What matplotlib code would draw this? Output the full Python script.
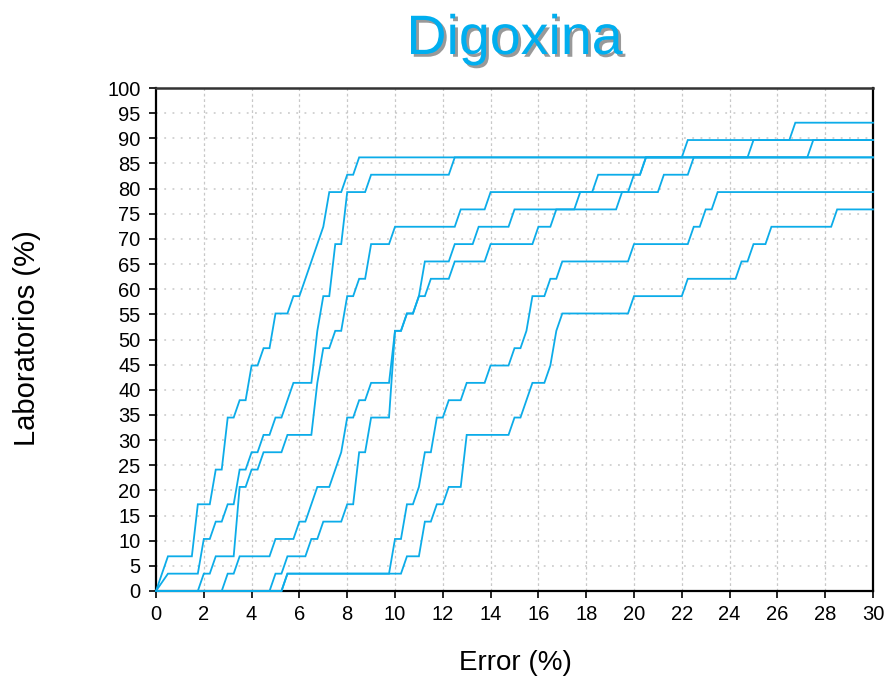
import matplotlib
matplotlib.use("Agg")
import matplotlib.pyplot as plt
import matplotlib.patheffects as pe
import numpy as np

plt.rcParams['font.family'] = ['Liberation Sans', 'DejaVu Sans']

TITLE = "Digoxina"
X_LABEL = "Error (%)"
Y_LABEL = "Laboratorios (%)"
N_LABS = 29
X_TICKS = list(range(0, 31, 2))
Y_TICKS = list(range(0, 101, 5))

# Each curve: error (%) vertices and number of laboratories (out of 29)
A_x = [0, 0.5, 1.5, 1.75, 2.25, 2.5, 2.75, 3, 3.25, 3.5, 3.75, 4, 4.25, 4.5, 4.75, 5, 5.5, 5.75, 6, 7,
       7.25, 7.75, 8, 8.25, 8.5, 22, 22.25, 26.5, 26.75, 30]
A_n = [0, 2, 2, 5, 5, 7, 7, 10, 10, 11, 11, 13, 13, 14, 14, 16, 16, 17, 17, 21,
       23, 23, 24, 24, 25, 25, 26, 26, 27, 27]

B_x = [0, 0.5, 1.75, 2, 2.25, 2.5, 2.75, 3, 3.25, 3.5, 3.75, 4, 4.25, 4.5, 4.75, 5, 5.25, 5.75, 6.5, 6.75,
       7, 7.25, 7.5, 7.75, 8, 8.75, 9, 12.25, 12.5, 24.75, 25, 30]
B_n = [0, 1, 1, 3, 3, 4, 4, 5, 5, 7, 7, 8, 8, 9, 9, 10, 10, 12, 12, 15,
       17, 17, 20, 20, 23, 23, 24, 24, 25, 25, 26, 26]

C_x = [0, 1.75, 2, 2.25, 2.5, 3.25, 3.5, 3.75, 4, 4.25, 4.5, 5.25, 5.5, 6.5, 6.75, 7, 7.25, 7.5, 7.75, 8,
       8.25, 8.5, 8.75, 9, 9.75, 10, 12.5, 12.75, 13.75, 14, 18.25, 18.5, 20.25, 20.5, 27.25, 27.5, 30]
C_n = [0, 0, 1, 1, 2, 2, 6, 6, 7, 7, 8, 8, 9, 9, 12, 14, 14, 15, 15, 17,
       17, 18, 18, 20, 20, 21, 21, 22, 22, 23, 23, 24, 24, 25, 25, 26, 26]

D_x = [0, 2.75, 3, 3.25, 3.5, 4.75, 5, 5.75, 6, 6.25, 6.5, 6.75, 7.25, 7.75, 8, 8.25, 8.5, 8.75, 9, 9.75,
       10, 10.25, 10.5, 10.75, 11, 11.25, 12.25, 12.5, 13.25, 13.5, 14.75, 15, 19.25, 19.5, 21, 21.25,
       22.25, 22.5, 30]
D_n = [0, 0, 1, 1, 2, 2, 3, 3, 4, 4, 5, 6, 6, 8, 10, 10, 11, 11, 12, 12,
       15, 15, 16, 16, 17, 19, 19, 20, 20, 21, 21, 22, 22, 23, 23, 24,
       24, 25, 25]

G_x = [0, 4.75, 5, 5.25, 5.5, 6.25, 6.5, 6.75, 7, 7.75, 8, 8.25, 8.5, 8.75, 9, 9.75, 10, 10.25, 10.5, 10.75,
       11, 11.25, 11.5, 12.25, 12.5, 13.75, 14, 15.75, 16, 16.5, 16.75, 17.5, 17.75, 19.75, 20, 20.25, 20.5, 30]
G_n = [0, 0, 1, 1, 2, 2, 3, 3, 4, 4, 5, 5, 8, 8, 10, 10, 15, 15, 16, 16,
       17, 17, 18, 18, 19, 19, 20, 20, 21, 21, 22, 22, 23, 23, 24, 24, 25, 25]

E_x = [0, 5.25, 5.5, 9.75, 10, 10.25, 10.5, 10.75, 11, 11.25, 11.5, 11.75, 12, 12.25, 12.75, 13, 13.75, 14,
       14.75, 15, 15.25, 15.5, 15.75, 16.25, 16.5, 16.75, 17, 19.75, 20, 22.25, 22.5, 22.75, 23, 23.25, 23.5, 30]
E_n = [0, 0, 1, 1, 3, 3, 5, 5, 6, 8, 8, 10, 10, 11, 11, 12, 12, 13,
       13, 14, 14, 15, 17, 17, 18, 18, 19, 19, 20, 20, 21, 21, 22, 22, 23, 23]

F_x = [0, 5.25, 5.5, 10.25, 10.5, 11, 11.25, 11.5, 11.75, 12, 12.25, 12.75, 13, 14.75, 15, 15.25, 15.5, 15.75,
       16.25, 16.5, 16.75, 17, 19.75, 20, 22, 22.25, 24.25, 24.5, 24.75, 25, 25.5, 25.75, 28.25, 28.5, 30]
F_n = [0, 0, 1, 1, 2, 2, 4, 4, 5, 5, 6, 6, 9, 9, 10, 10, 11, 12,
       12, 13, 15, 16, 16, 17, 17, 18, 18, 19, 19, 20, 20, 21, 21, 22, 22]

CURVES = [(A_x, A_n), (B_x, B_n), (C_x, C_n), (D_x, D_n), (G_x, G_n), (E_x, E_n), (F_x, F_n)]

LINE_COLOR = '#0CACE9'

fig = plt.figure(figsize=(8.88, 6.79), dpi=100)
ax = fig.add_axes([156/888, 1 - 591/679, (873-156)/888, (591-88)/679])

for xs, ns in CURVES:
    ys = np.array(ns) * 100.0 / N_LABS
    ax.plot(xs, ys, color=LINE_COLOR, lw=1.3, solid_joinstyle='miter', clip_on=False, zorder=3)

ax.set_xlim(0, 30)
ax.set_ylim(0, 100)
ax.set_xticks(X_TICKS)
ax.set_yticks(Y_TICKS)
ax.tick_params(axis='both', direction='out', length=5, width=1.2, labelsize=14.5, colors='black')
ax.tick_params(axis='y', pad=6)
ax.tick_params(axis='x', pad=5)
ax.tick_params(top=False, right=False)

for v in X_TICKS[1:-1]:
    ax.axvline(v, color='#C8C8C8', lw=0.9, ls=(0, (2.2, 2.2)), zorder=1)
for v in Y_TICKS[1:-1]:
    ax.axhline(v, color='#C8C8C8', lw=1.1, ls=(0, (1.2, 4.2)), zorder=1)

for s in ['left', 'bottom', 'right']:
    ax.spines[s].set_color('black')
    ax.spines[s].set_linewidth(1.6)
ax.spines['top'].set_color('#333333')
ax.spines['top'].set_linewidth(1.8)

fig.text(515/888, 1 - 663/679, X_LABEL, ha='center', va='center', fontsize=20)
fig.text(27/888, 1 - 338/679, Y_LABEL, ha='center', va='center', rotation=90, fontsize=21)

fig.text(514.5/888, 1 - 54/679, TITLE, ha='center', va='baseline', fontsize=40, color='#00AEEF',
         path_effects=[pe.withSimplePatchShadow(offset=(2, -2), shadow_rgbFace='#808080', alpha=0.8)])

fig.savefig('out.png', dpi=100)
